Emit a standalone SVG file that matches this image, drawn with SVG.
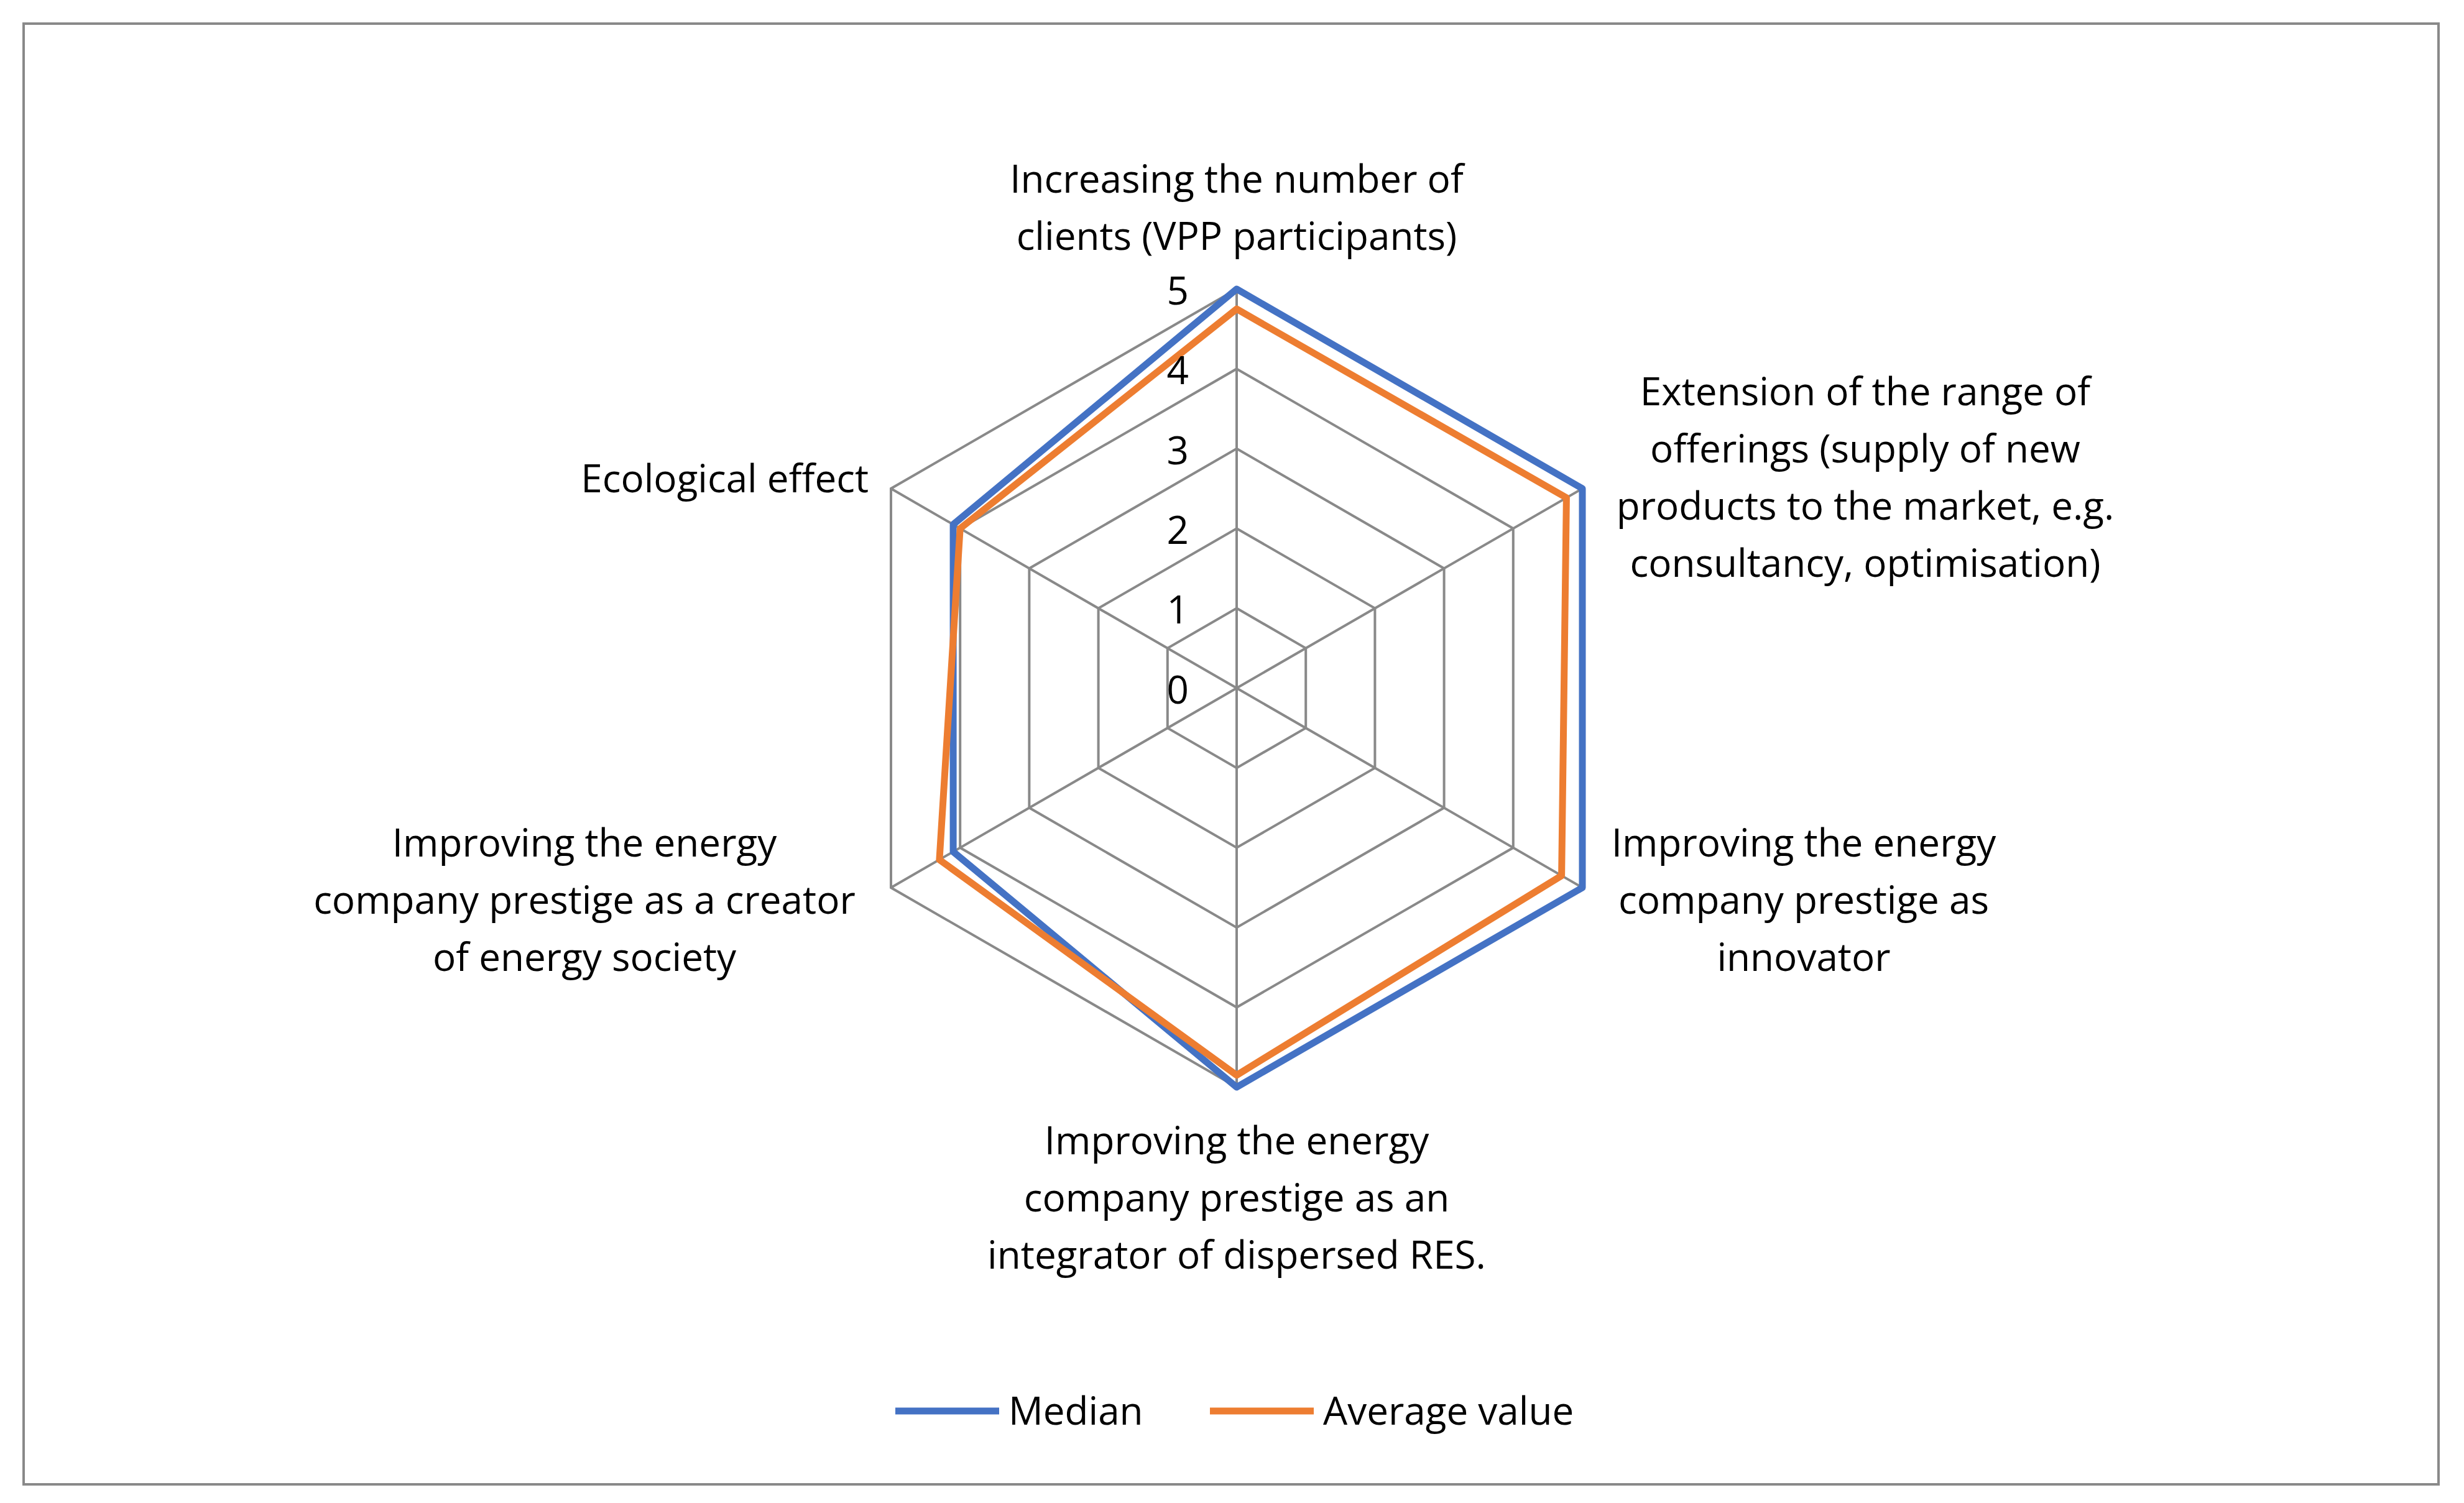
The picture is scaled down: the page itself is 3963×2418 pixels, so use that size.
<svg xmlns="http://www.w3.org/2000/svg" width="3963" height="2418" viewBox="0 0 3963 2418">
<style>
text{font-family:"Open Sans","Liberation Sans",sans-serif;font-size:62px;fill:#000}
.grid{fill:none;stroke:#898989;stroke-width:4}
.med{fill:none;stroke:#4472C4;stroke-width:11;stroke-linejoin:round}
.avg{fill:none;stroke:#ED7D31;stroke-width:11;stroke-linejoin:round}
.c{text-anchor:middle}
</style>
<rect x="38" y="38" width="3884" height="2350" fill="#fff" stroke="#898989" stroke-width="4"/>
<g id="grid" transform="translate(1989,1107)">
<polygon class="grid" points="0,-642 556,-321 556,321 0,642 -556,321 -556,-321"/>
<polygon class="grid" points="0,-513.6 444.8,-256.8 444.8,256.8 0,513.6 -444.8,256.8 -444.8,-256.8"/>
<polygon class="grid" points="0,-385.2 333.6,-192.6 333.6,192.6 0,385.2 -333.6,192.6 -333.6,-192.6"/>
<polygon class="grid" points="0,-256.8 222.4,-128.4 222.4,128.4 0,256.8 -222.4,128.4 -222.4,-128.4"/>
<polygon class="grid" points="0,-128.4 111.2,-64.2 111.2,64.2 0,128.4 -111.2,64.2 -111.2,-64.2"/>
<path class="grid" d="M0,0L0,-642M0,0L556,-321M0,0L556,321M0,0L0,642M0,0L-556,321M0,0L-556,-321"/>
</g>
<g id="series" transform="translate(1989,1107)">
<polygon id="median" class="med" points="0,-642 556,-321 556,321 0,642 -455.9,263.2 -455.9,-263.2"/>
<polygon id="average" class="avg" points="0,-609.9 530.4,-306.2 522.6,301.7 0,622.7 -478.1,276.1 -444.8,-256.8"/>
</g>
<g id="ticks" style="text-anchor:end">
<text x="1912" y="1132">0</text>
<text x="1912" y="1003">1</text>
<text x="1912" y="875">2</text>
<text x="1912" y="747">3</text>
<text x="1912" y="618">4</text>
<text x="1912" y="490">5</text>
</g>
<g id="labels">
<text class="c" x="1989" y="310">Increasing the number of</text>
<text class="c" x="1989" y="402">clients (VPP participants)</text>
<text class="c" x="3000" y="652">Extension of the range of</text>
<text class="c" x="3000" y="744">offerings (supply of new</text>
<text class="c" x="3000" y="836">products to the market, e.g.</text>
<text class="c" x="3000" y="928">consultancy, optimisation)</text>
<text class="c" x="2901" y="1378">Improving the energy</text>
<text class="c" x="2901" y="1470">company prestige as</text>
<text class="c" x="2901" y="1562">innovator</text>
<text class="c" x="1989" y="1857">Improving the energy</text>
<text class="c" x="1989" y="1949">company prestige as an</text>
<text class="c" x="1989" y="2041">integrator of dispersed RES.</text>
<text class="c" x="940" y="1378">Improving the energy</text>
<text class="c" x="940" y="1470">company prestige as a creator</text>
<text class="c" x="940" y="1562">of energy society</text>
<text x="1397" y="792" style="text-anchor:end">Ecological effect</text>
</g>
<g id="legend">
<line x1="1440" y1="2270" x2="1607" y2="2270" class="med"/>
<text x="1622" y="2292">Median</text>
<line x1="1946" y1="2270" x2="2113" y2="2270" class="avg"/>
<text x="2128" y="2292">Average value</text>
</g>
</svg>
